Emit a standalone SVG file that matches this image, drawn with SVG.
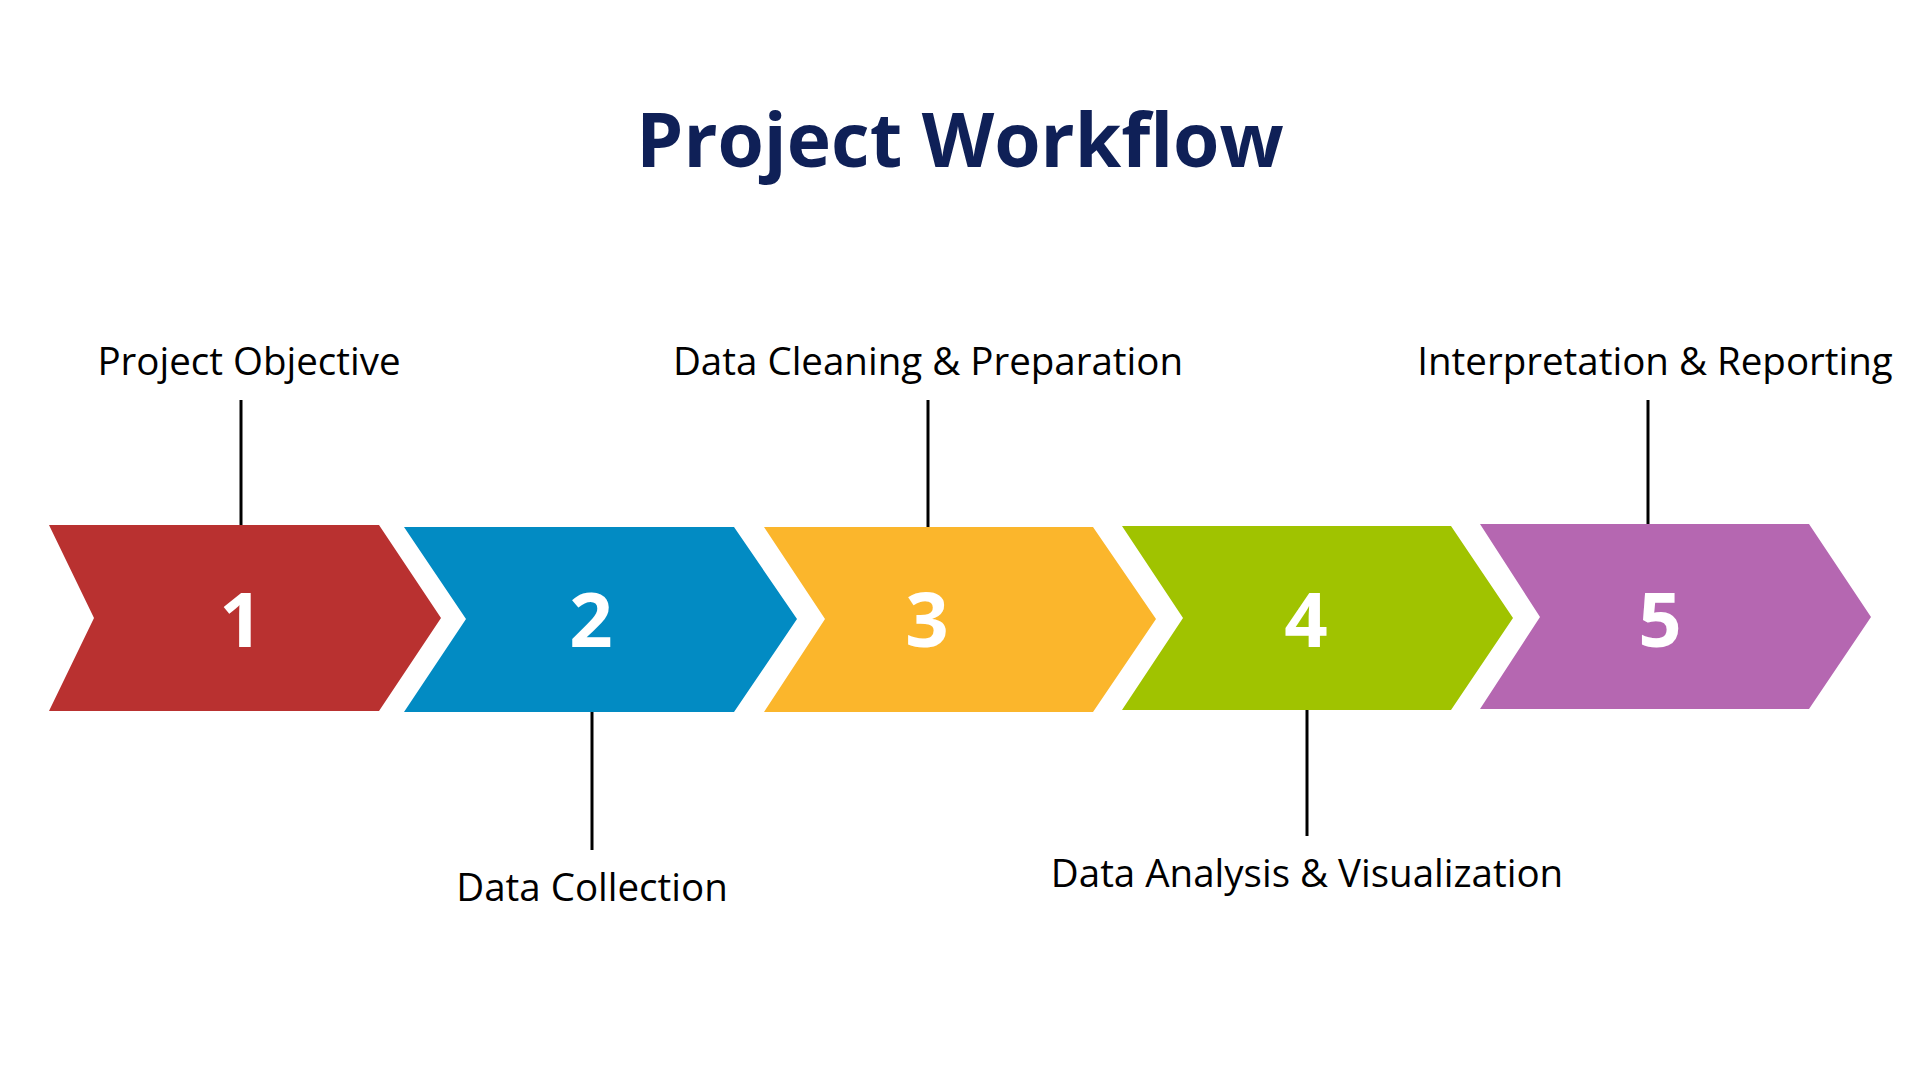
<svg xmlns="http://www.w3.org/2000/svg" width="1920" height="1080" viewBox="0 0 1920 1080">
<style>
.title{font-family:"Open Sans","Noto Sans",sans-serif;font-weight:700;font-size:75px;fill:#0f2057;text-anchor:middle}
.num{font-family:"Open Sans","Noto Sans",sans-serif;font-weight:700;font-size:76px;fill:#ffffff;text-anchor:middle}
.lbl{font-family:"Open Sans","Noto Sans",sans-serif;font-size:38.5px;fill:#000000;text-anchor:middle}
.conn{stroke:#000000;stroke-width:3;fill:none}
</style>
<rect width="1920" height="1080" fill="#ffffff"/>
<text class="title" x="960" y="167">Project Workflow</text>
<g id="connectors">
<line class="conn" x1="241" y1="400" x2="241" y2="525"/>
<line class="conn" x1="592" y1="712" x2="592" y2="850"/>
<line class="conn" x1="928" y1="400" x2="928" y2="527"/>
<line class="conn" x1="1307" y1="710" x2="1307" y2="836"/>
<line class="conn" x1="1648" y1="400" x2="1648" y2="524"/>
</g>
<g id="step1">
<polygon points="49,525 379,525 441,618 379,711 49,711 94,618" fill="#b93130"/>
<text class="num" x="241" y="647">1</text>
<text class="lbl" x="249" y="375">Project Objective</text>
</g>
<g id="step2">
<polygon points="404,527 734,527 797,619 734,712 404,712 466,619" fill="#028bc3"/>
<text class="num" x="591" y="647">2</text>
<text class="lbl" x="592" y="901">Data Collection</text>
</g>
<g id="step3">
<polygon points="764,527 1093,527 1156,619 1093,712 764,712 825,619" fill="#fbb62c"/>
<text class="num" x="927" y="647">3</text>
<text class="lbl" x="928" y="375">Data Cleaning &amp; Preparation</text>
</g>
<g id="step4">
<polygon points="1122,526 1451,526 1513,618 1451,710 1122,710 1183,618" fill="#a0c300"/>
<text class="num" x="1306" y="647">4</text>
<text class="lbl" x="1307" y="887">Data Analysis &amp; Visualization</text>
</g>
<g id="step5">
<polygon points="1480,524 1809,524 1871,617 1809,709 1480,709 1540,617" fill="#b567b1"/>
<text class="num" x="1660" y="647">5</text>
<text class="lbl" x="1655" y="375">Interpretation &amp; Reporting</text>
</g>
</svg>
